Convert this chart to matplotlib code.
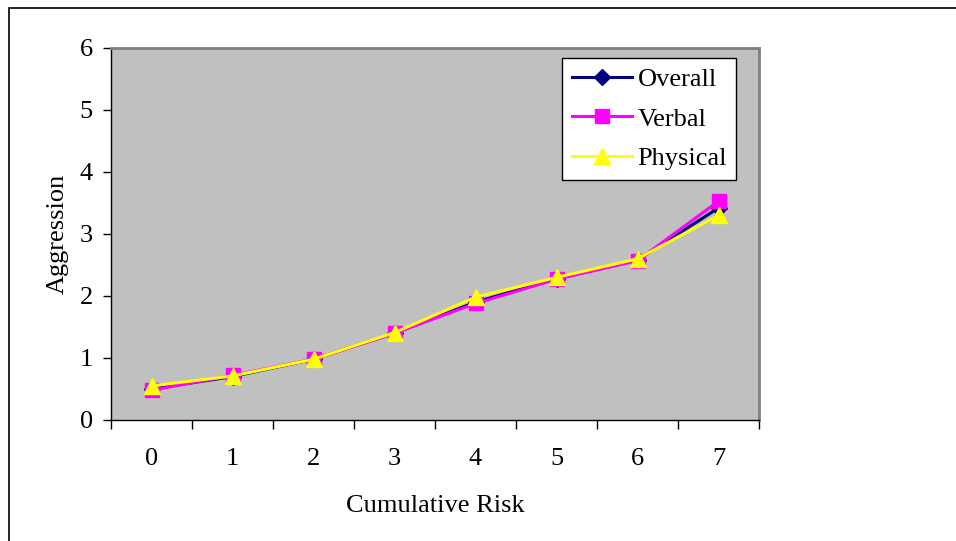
import numpy as np
import matplotlib.pyplot as plt
from matplotlib.patches import Rectangle

# data
risk = [0, 1, 2, 3, 4, 5, 6, 7]
overall = [0.50, 0.70, 0.98, 1.40, 1.90, 2.28, 2.58, 3.42]
verbal = [0.48, 0.72, 0.98, 1.40, 1.88, 2.27, 2.57, 3.53]
physical = [0.55, 0.71, 0.98, 1.41, 1.98, 2.30, 2.60, 3.30]

plt.rcParams['font.family'] = ['Liberation Serif', 'DejaVu Serif']
fs = 19

fig = plt.figure(figsize=(9.56, 5.41), dpi=100)
# outer frame like the pasted chart object
fig.patches.append(Rectangle((9 / 956, -0.05), 1.0, 1 - 8 / 541 + 0.05,
                             transform=fig.transFigure, fill=False,
                             edgecolor='black', linewidth=1.2))

ax = fig.add_axes([111 / 956, 1 - 420 / 541, (759 - 111) / 956, (420 - 48) / 541])
ax.set_facecolor('#c0c0c0')

ax.plot(risk, overall, color='#000080', marker='D', markersize=8, linewidth=2.2, label='Overall')
ax.plot(risk, verbal, color='#ff00ff', marker='s', markersize=10, linewidth=2.2, label='Verbal')
ax.plot(risk, physical, color='#ffff00', marker='^', markersize=12, linewidth=2.2, label='Physical')

ax.set_xlim(-0.5, 7.5)
ax.set_ylim(0, 6)
ax.set_xticks(np.arange(-0.5, 8, 1))
ax.set_xticklabels([])
ax.set_xticks(risk, minor=True)
ax.set_xticklabels([str(r) for r in risk], minor=True, fontsize=fs)
ax.tick_params(axis='x', which='minor', length=0, pad=20)
ax.tick_params(axis='x', which='major', length=6.5, width=1, direction='out')
ax.set_yticks(range(0, 7))
ax.tick_params(axis='y', labelsize=fs, length=6, width=1, direction='out', pad=7)

for side in ['top', 'right']:
    ax.spines[side].set_color('#808080')
    ax.spines[side].set_linewidth(2)
for side in ['left', 'bottom']:
    ax.spines[side].set_color('black')
    ax.spines[side].set_linewidth(1)

ax.set_xlabel('Cumulative Risk', fontsize=fs, labelpad=18)
ax.set_ylabel('Aggression', fontsize=fs, labelpad=8)

leg = ax.legend(loc='upper right', bbox_to_anchor=(0.965, 0.973), fontsize=fs,
                frameon=True, fancybox=False, edgecolor='black', framealpha=1,
                handlelength=2.3, borderpad=0.35, labelspacing=0.62, handletextpad=0.2,
                borderaxespad=0)
leg.get_frame().set_linewidth(1)

fig.savefig('out.png', dpi=100)
